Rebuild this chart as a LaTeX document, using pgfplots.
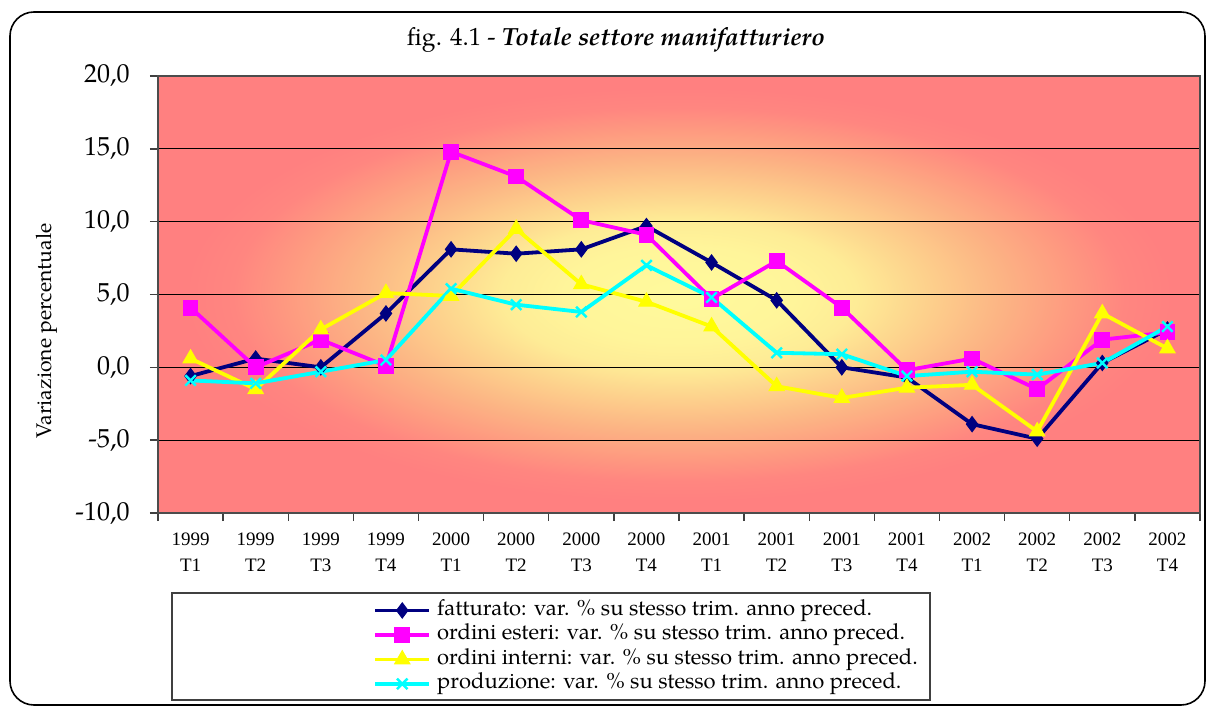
\documentclass[border=0pt]{standalone}
\usepackage{fontspec}
\setmainfont{TeX Gyre Pagella}
\newfontfamily\tickfont{Liberation Serif}
\usepackage{pgfplots}
\pgfplotsset{compat=1.18}
\definecolor{navyc}{HTML}{000080}
\definecolor{magc}{HTML}{FF00FF}
\definecolor{yelc}{HTML}{FFFF00}
\definecolor{cyanc}{HTML}{00FFFF}
\definecolor{bg0}{HTML}{FFFA9C}
\definecolor{bg1}{HTML}{FFF59A}
\definecolor{bg2}{HTML}{FEEC96}
\definecolor{bg3}{HTML}{FDD08C}
\definecolor{bg4}{HTML}{FCB484}
\definecolor{bg5}{HTML}{FE9A80}
\definecolor{bg6}{HTML}{FF8680}
\definecolor{bg7}{HTML}{FF8080}
\pgfdeclareradialshading{plotbg}{\pgfpoint{0bp}{0bp}}{color(0bp)=(bg0); color(5.5bp)=(bg1); color(8.5bp)=(bg2); color(12bp)=(bg3); color(15.5bp)=(bg4); color(18.8bp)=(bg5); color(21.4bp)=(bg6); color(23.7bp)=(bg7); color(50bp)=(bg7)}
\begin{document}
\begin{tikzpicture}
\useasboundingbox (0,0) rectangle (606bp,355.5bp);
\draw[line width=0.8bp, rounded corners=12bp] (5bp,3bp) rectangle (602.5bp,349.5bp);
\node[font=\fontsize{12.4bp}{14bp}\selectfont] at (308bp,335.5bp) {fig. 4.1 - \textbf{\textit{Totale settore manifatturiero}}};
\draw[line width=0.6bp, draw=black!75] (86bp,5.5bp) rectangle (465bp,59bp);
\begin{axis}[
  at={(79bp,99bp)}, anchor=south west,
  scale only axis, width=521bp, height=218.5bp,
  xmin=-0.5, xmax=15.5, ymin=-10, ymax=20,
  ytick={-10,-5,...,20},
  ymajorgrids, grid style={black, line width=0.5bp},
  yticklabel style={/pgf/number format/fixed, /pgf/number format/fixed zerofill, /pgf/number format/precision=1, /pgf/number format/use comma, /pgf/number format/assume math mode=true, font=\fontsize{13bp}{15bp}\selectfont, xshift=-6.7bp},
  xtick={0,...,15},
  xticklabels={{1999\\[1.5bp]T1},{1999\\[1.5bp]T2},{1999\\[1.5bp]T3},{1999\\[1.5bp]T4},{2000\\[1.5bp]T1},{2000\\[1.5bp]T2},{2000\\[1.5bp]T3},{2000\\[1.5bp]T4},{2001\\[1.5bp]T1},{2001\\[1.5bp]T2},{2001\\[1.5bp]T3},{2001\\[1.5bp]T4},{2002\\[1.5bp]T1},{2002\\[1.5bp]T2},{2002\\[1.5bp]T3},{2002\\[1.5bp]T4}},
  xticklabel style={align=center, font=\tickfont\fontsize{9.5bp}{11.5bp}\selectfont, yshift=-2.5bp},
  minor xtick={-0.5,0.5,...,15.5},
  xtick pos=lower, ytick pos=lower,
  tick align=outside,
  major tick length=4bp,
  xtick style={draw=none},
  minor tick length=4bp,
  minor x tick style={draw=black!75, line width=0.7bp},
  ytick style={draw=black!75, line width=0.7bp},
  axis line style={draw=black!70, line width=0.8bp},
  axis background/.style={shading=plotbg},
  ylabel={Variazione percentuale},
  ylabel style={at={(axis description cs:-0.1065,0.4165)}, anchor=center, font=\fontsize{10.6bp}{12bp}\selectfont},
  legend style={at={(axis description cs:0.2063,-0.194)}, anchor=north west, draw=none, fill=none, inner sep=0pt, font=\fontsize{11bp}{13bp}\selectfont, row sep=0pt, column sep=0pt,
    nodes={text height=8.6bp, text depth=3.65bp, inner sep=0pt, outer sep=0pt}},
  legend cell align=left,
  legend image code/.code={\draw[mark repeat=2, mark phase=2] plot coordinates {(0bp,0bp) (13.5bp,0bp) (27bp,0bp)};},
  every axis plot/.append style={line width=1.9bp},
  clip=false,
]
\addplot[navyc, mark=diamond*, mark size=3.8bp, mark options={solid, line width=0.5bp}] coordinates {
(0,-0.6) (1,0.6) (2,0.0) (3,3.7) (4,8.1) (5,7.8) (6,8.1) (7,9.7) (8,7.2) (9,4.6) (10,0.0) (11,-0.7) (12,-3.9) (13,-4.9) (14,0.3) (15,2.6)};
\addlegendentry{\hspace{3bp}fatturato: var. \% su stesso trim. anno preced.}
\addplot[magc, mark=square*, mark size=3.7bp, mark options={solid, line width=0.5bp}] coordinates {
(0,4.1) (1,0.0) (2,1.9) (3,0.1) (4,14.8) (5,13.1) (6,10.1) (7,9.1) (8,4.7) (9,7.3) (10,4.1) (11,-0.2) (12,0.6) (13,-1.5) (14,1.9) (15,2.4)};
\addlegendentry{\hspace{3bp}ordini esteri: var. \% su stesso trim. anno preced.}
\addplot[yelc, mark=triangle*, mark size=4.4bp, mark options={solid, line width=0.5bp}] coordinates {
(0,0.6) (1,-1.5) (2,2.6) (3,5.1) (4,4.9) (5,9.5) (6,5.7) (7,4.5) (8,2.8) (9,-1.3) (10,-2.1) (11,-1.4) (12,-1.2) (13,-4.4) (14,3.7) (15,1.3)};
\addlegendentry{\hspace{3bp}ordini interni: var. \% su stesso trim. anno preced.}
\addplot[cyanc, mark=x, mark size=3.7bp, mark options={solid, line width=1.2bp}] coordinates {
(0,-0.9) (1,-1.1) (2,-0.3) (3,0.5) (4,5.4) (5,4.3) (6,3.8) (7,7.0) (8,4.8) (9,1.0) (10,0.9) (11,-0.6) (12,-0.3) (13,-0.5) (14,0.3) (15,2.8)};
\addlegendentry{\hspace{3bp}produzione: var. \% su stesso trim. anno preced.}
\end{axis}
\end{tikzpicture}
\end{document}
